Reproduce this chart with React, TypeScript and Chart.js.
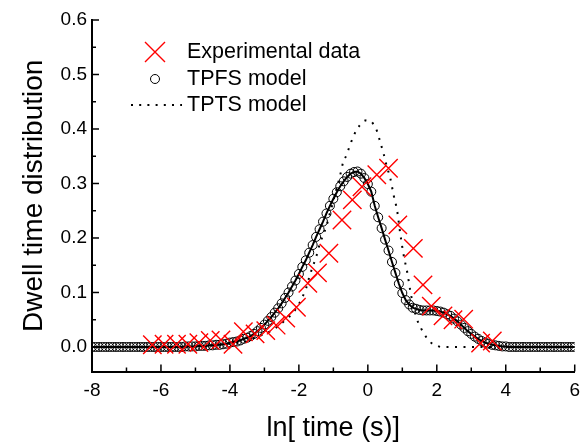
import React, { useEffect, useRef } from 'react';
import { Chart, registerables } from 'chart.js';

Chart.register(...registerables);

const FONT = "'Liberation Sans', Arial, sans-serif";

const xTickLabels = [-8, -6, -4, -2, 0, 2, 4, 6];
const xMinorTicks = [-7, -5, -3, -1, 1, 3, 5];
const yTickLabels = [0, 0.1, 0.2, 0.3, 0.4, 0.5, 0.6];
const yMinorTicks = [0.05, 0.15, 0.25, 0.35, 0.45, 0.55];

const seriesNames = ['Experimental data', 'TPFS model', 'TPTS model'];

// Experimental data (red crosses)
const expX = [-6.25, -5.91, -5.55, -5.22, -4.9, -4.57, -4.26, -3.91, -3.61, -3.27, -2.96, -2.66, -2.38, -2.07, -1.74, -1.46, -1.13, -0.75, -0.45, -0.17, 0.26, 0.6, 0.87, 1.32, 1.6, 1.84, 2.18, 2.47, 2.78, 3.27, 3.61];
const expY = [0.004, 0.005, 0.005, 0.005, 0.008, 0.012, 0.013, 0.005, 0.028, 0.024, 0.03, 0.04, 0.053, 0.073, 0.117, 0.136, 0.172, 0.233, 0.27, 0.294, 0.316, 0.328, 0.224, 0.181, 0.114, 0.075, 0.057, 0.05, 0.051, 0.007, 0.011];

// TPFS model (solid line with open circles)
const tpfsX = [
  -8.0, -7.9, -7.8, -7.7, -7.6, -7.5, -7.4, -7.3, -7.2, -7.1,
  -7.0, -6.9, -6.8, -6.7, -6.6, -6.5, -6.4, -6.3, -6.2, -6.1,
  -6.0, -5.9, -5.8, -5.7, -5.6, -5.5, -5.4, -5.3, -5.2, -5.1,
  -5.0, -4.9, -4.8, -4.7, -4.6, -4.5, -4.4, -4.3, -4.2, -4.1,
  -4.0, -3.9, -3.8, -3.7, -3.6, -3.5, -3.4, -3.3, -3.2, -3.1,
  -3.0, -2.9, -2.8, -2.7, -2.6, -2.5, -2.4, -2.3, -2.2, -2.1,
  -2.0, -1.9, -1.8, -1.7, -1.6, -1.5, -1.4, -1.3, -1.2, -1.1,
  -1.0, -0.9, -0.8, -0.7, -0.6, -0.5, -0.4, -0.3, -0.2, -0.1,
  0.0, 0.1, 0.2, 0.3, 0.4, 0.5, 0.6, 0.7, 0.8, 0.9,
  1.0, 1.1, 1.2, 1.3, 1.4, 1.5, 1.6, 1.7, 1.8, 1.9,
  2.0, 2.1, 2.2, 2.3, 2.4, 2.5, 2.6, 2.7, 2.8, 2.9,
  3.0, 3.1, 3.2, 3.3, 3.4, 3.5, 3.6, 3.7, 3.8, 3.9,
  4.0, 4.1, 4.2, 4.3, 4.4, 4.5, 4.6, 4.7, 4.8, 4.9,
  5.0, 5.1, 5.2, 5.3, 5.4, 5.5, 5.6, 5.7, 5.8, 5.9,
  6.0,
];
const tpfsY = [
  0, 0, 0, 0, 0, 0, 0, 0, 0, 0,
  0, 0, 0, 0, 0, 0, 0, 0, 0, 0,
  0, 0, 0, 0, 0, 0, 0, 0.001, 0.001, 0.001,
  0.001, 0.002, 0.002, 0.002, 0.003, 0.003, 0.004, 0.004, 0.005, 0.006,
  0.008, 0.009, 0.01, 0.012, 0.015, 0.017, 0.02, 0.024, 0.029, 0.035,
  0.041, 0.048, 0.055, 0.063, 0.071, 0.08, 0.09, 0.1, 0.111, 0.122,
  0.134, 0.147, 0.159, 0.173, 0.187, 0.202, 0.216, 0.23, 0.245, 0.259,
  0.272, 0.284, 0.295, 0.304, 0.312, 0.318, 0.321, 0.322, 0.318, 0.31,
  0.299, 0.285, 0.259, 0.238, 0.218, 0.197, 0.177, 0.156, 0.136, 0.116,
  0.099, 0.086, 0.078, 0.072, 0.07, 0.068, 0.067, 0.067, 0.067, 0.067,
  0.066, 0.065, 0.063, 0.06, 0.057, 0.052, 0.047, 0.041, 0.035, 0.029,
  0.024, 0.019, 0.015, 0.011, 0.008, 0.006, 0.004, 0.003, 0.002, 0.001,
  0.001, 0, 0, 0, 0, 0, 0, 0, 0, 0,
  0, 0, 0, 0, 0, 0, 0, 0, 0, 0,
  0,
];

// TPTS model (dotted line)
const tptsX = [-8.0, -5.7, -4.72, -4.24, -3.75, -3.55, -3.36, -3.16, -2.96, -2.77, -2.57, -2.38, -2.18, -1.99, -1.79, -1.69, -1.6, -1.5, -1.4, -1.3, -1.21, -1.11, -1.01, -0.91, -0.81, -0.72, -0.62, -0.52, -0.42, -0.33, -0.23, -0.13, -0.03, 0.07, 0.16, 0.26, 0.36, 0.46, 0.55, 0.65, 0.75, 0.85, 0.94, 1.04, 1.14, 1.24, 1.34, 1.43, 1.53, 1.63, 1.73, 1.83, 1.92, 2.02, 2.12, 3.1, 4.07, 5.05, 6.0];
const tptsY = [0, 0, 0.002, 0.005, 0.008, 0.01, 0.015, 0.02, 0.025, 0.031, 0.04, 0.05, 0.062, 0.08, 0.108, 0.13, 0.147, 0.165, 0.188, 0.205, 0.22, 0.243, 0.266, 0.29, 0.313, 0.338, 0.352, 0.37, 0.386, 0.398, 0.407, 0.414, 0.416, 0.415, 0.409, 0.397, 0.376, 0.354, 0.331, 0.31, 0.278, 0.25, 0.208, 0.168, 0.138, 0.1, 0.07, 0.05, 0.036, 0.024, 0.015, 0.008, 0.004, 0.002, 0, 0, 0, 0, 0];

const toPoints = (xs: number[], ys: number[]) => xs.map((x, i) => ({ x, y: ys[i] }));

const inwardTicks = {
  id: 'inwardTicks',
  afterDraw(chart: any) {
    const { ctx, chartArea } = chart;
    const xs = chart.scales.x;
    const ys = chart.scales.y;
    ctx.save();
    ctx.strokeStyle = '#000';
    ctx.lineWidth = 1.5;
    const line = (x1: number, y1: number, x2: number, y2: number) => {
      ctx.beginPath();
      ctx.moveTo(x1, y1);
      ctx.lineTo(x2, y2);
      ctx.stroke();
    };
    xTickLabels.forEach((v) => { const p = xs.getPixelForValue(v); line(p, chartArea.bottom, p, chartArea.bottom - 7); });
    xMinorTicks.forEach((v) => { const p = xs.getPixelForValue(v); line(p, chartArea.bottom, p, chartArea.bottom - 4); });
    yTickLabels.forEach((v) => { const p = ys.getPixelForValue(v); line(chartArea.left, p, chartArea.left + 7, p); });
    yMinorTicks.forEach((v) => { const p = ys.getPixelForValue(v); line(chartArea.left, p, chartArea.left + 4, p); });
    ctx.restore();
  },
};

const legendPlugin = {
  id: 'customLegend',
  afterDraw(chart: any) {
    const { ctx } = chart;
    ctx.save();
    const mx = 155;
    const tx = 187;
    const rows = [52, 79, 105];
    ctx.strokeStyle = '#FF0000';
    ctx.lineWidth = 1.4;
    const r = 10;
    ctx.beginPath();
    ctx.moveTo(mx - r, rows[0] - r); ctx.lineTo(mx + r, rows[0] + r);
    ctx.moveTo(mx + r, rows[0] - r); ctx.lineTo(mx - r, rows[0] + r);
    ctx.stroke();
    ctx.strokeStyle = '#000';
    ctx.lineWidth = 1;
    ctx.beginPath();
    ctx.arc(mx, rows[1], 4.5, 0, Math.PI * 2);
    ctx.stroke();
    ctx.lineWidth = 2;
    ctx.setLineDash([2, 6.2]);
    ctx.beginPath();
    ctx.moveTo(131, rows[2]);
    ctx.lineTo(182, rows[2]);
    ctx.stroke();
    ctx.setLineDash([]);
    ctx.fillStyle = '#000';
    ctx.font = `21.5px ${FONT}`;
    ctx.textBaseline = 'middle';
    ctx.textAlign = 'left';
    seriesNames.forEach((n, i) => ctx.fillText(n, tx, rows[i]));
    ctx.restore();
  },
};

export default function App() {
  const ref = useRef<HTMLCanvasElement | null>(null);
  useEffect(() => {
    document.body.style.margin = '0';
    if (!ref.current) return;
    const chart = new Chart(ref.current, {
      type: 'line',
      data: {
        datasets: [
          {
            label: seriesNames[0],
            data: toPoints(expX, expY),
            showLine: false,
            pointStyle: 'crossRot',
            pointRadius: 13,
            pointBorderWidth: 1.4,
            pointBorderColor: '#FF0000',
            borderColor: '#FF0000',
            backgroundColor: '#FF0000',
            order: 0,
          },
          {
            label: seriesNames[1],
            data: toPoints(tpfsX, tpfsY),
            borderColor: '#000',
            borderWidth: 2,
            pointStyle: 'circle',
            pointRadius: 4.5,
            pointBorderWidth: 1,
            pointBorderColor: '#000',
            pointBackgroundColor: 'rgba(0,0,0,0)',
            tension: 0,
            order: 1,
          },
          {
            label: seriesNames[2],
            data: toPoints(tptsX, tptsY),
            borderColor: '#000',
            borderWidth: 2,
            borderDash: [2, 6.5],
            pointRadius: 0,
            cubicInterpolationMode: 'monotone',
            order: 2,
          },
        ],
      },
      options: {
        animation: false,
        responsive: false,
        devicePixelRatio: 1,
        events: [],
        layout: { autoPadding: false, padding: { left: 0, right: 8, top: 20, bottom: 0 } },
        plugins: { legend: { display: false }, tooltip: { enabled: false } },
        scales: {
          x: {
            type: 'linear',
            min: -8,
            max: 6,
            grid: { display: false, drawTicks: false },
            border: { display: true, color: '#000', width: 2 },
            afterBuildTicks: (s: any) => { s.ticks = xTickLabels.map((v) => ({ value: v })); },
            afterFit: (s: any) => { s.height = 70.5; },
            ticks: {
              color: '#000',
              padding: 8,
              maxRotation: 0,
              font: { family: FONT, size: 19 },
              callback: (v: any) => String(v),
            },
            title: {
              display: true,
              text: 'ln[ time (s)]',
              color: '#000',
              font: { family: FONT, size: 27, lineHeight: 1 },
              padding: { top: 0, bottom: 0 },
            },
          },
          y: {
            type: 'linear',
            min: -0.045,
            max: 0.6,
            grid: { display: false, drawTicks: false },
            border: { display: true, color: '#000', width: 2 },
            afterBuildTicks: (s: any) => { s.ticks = yTickLabels.map((v) => ({ value: v })); },
            afterFit: (s: any) => { s.width = 92; },
            ticks: {
              color: '#000',
              padding: 5,
              font: { family: FONT, size: 19 },
              callback: (v: any) => Number(v).toFixed(1),
            },
            title: {
              display: true,
              text: 'Dwell time distribution',
              color: '#000',
              font: { family: FONT, size: 28, lineHeight: 1 },
              padding: { top: 20, bottom: 0 },
            },
          },
        },
      },
      plugins: [inwardTicks, legendPlugin],
    } as any);
    return () => chart.destroy();
  }, []);
  return (
    <div style={{ position: 'fixed', left: 0, top: 0, width: 588, height: 442, background: '#fff' }}>
      <canvas ref={ref} width={588} height={442} style={{ width: 588, height: 442 }} />
    </div>
  );
}
